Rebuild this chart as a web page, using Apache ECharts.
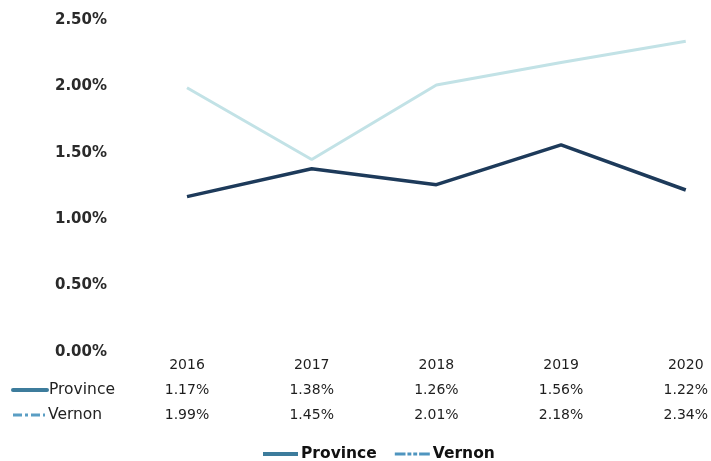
<!DOCTYPE html>
<html>
<head>
<meta charset="utf-8">
<script src="https://cdn.jsdelivr.net/npm/echarts@6/dist/echarts.min.js"></script>
<style>html,body{margin:0;padding:0;background:#fff}#c{width:711px;height:461px}</style>
</head>
<body>
<div id="c"></div>
<script>
var years = ['2016', '2017', '2018', '2019', '2020'];
var seriesNames = ['Province', 'Vernon'];
var province = [1.17, 1.38, 1.26, 1.56, 1.22];
var vernon = [1.99, 1.45, 2.01, 2.18, 2.34];

var FONT = '"DejaVu Sans", "Open Sans", sans-serif';
var chart = echarts.init(document.getElementById('c'));
var fmt = function (v) { return v.toFixed(2) + '%'; };

chart.setOption({
  animation: false,
  backgroundColor: '#ffffff',
  grid: { left: 187, right: 23, top: 20, bottom: 109 },
  xAxis: {
    type: 'category',
    data: years,
    boundaryGap: false,
    axisLine: { show: false },
    axisTick: { show: false },
    splitLine: { show: false },
    axisLabel: {
      margin: 1,
      interval: 0,
      formatter: function (v, i) {
        return '{y|' + v + '}\n{v|' + fmt(province[i]) + '}\n{v|' + fmt(vernon[i]) + '}';
      },
      rich: {
        y: { fontFamily: FONT, fontSize: 14, fontWeight: 500, color: '#1e1e1e', lineHeight: 25 },
        v: { fontFamily: FONT, fontSize: 14, fontWeight: 500, color: '#1e1e1e', lineHeight: 25 }
      }
    }
  },
  yAxis: {
    type: 'value',
    min: 0,
    max: 2.5,
    interval: 0.5,
    axisLine: { show: false },
    axisTick: { show: false },
    splitLine: { show: false },
    axisLabel: {
      margin: 80,
      fontFamily: FONT,
      fontSize: 15,
      fontWeight: 700,
      color: '#2a2a2a',
      formatter: function (v) { return v.toFixed(2) + '%'; }
    }
  },
  legend: {
    top: 441,
    left: 258,
    itemGap: 18,
    itemWidth: 35,
    itemHeight: 4,
    textStyle: { fontFamily: FONT, fontSize: 15.5, fontWeight: 700, color: '#111', padding: [0, 0, 0, -2] },
    data: [
      { name: seriesNames[0], icon: 'rect' },
      { name: seriesNames[1], icon: 'path://M0,0h11v3h-11zM13,0h4v3h-4zM19,0h4v3h-4zM25,0h11v3h-11z' }
    ]
  },
  graphic: [
    { type: 'line', shape: { x1: 13, y1: 390, x2: 47, y2: 390 }, style: { stroke: '#3d7c9c', lineWidth: 4, lineCap: 'round' } },
    { type: 'text', x: 49, y: 390, style: { text: seriesNames[0], fontFamily: FONT, fontSize: 15.5, fontWeight: 500, fill: '#222', textVerticalAlign: 'middle' } },
    { type: 'line', shape: { x1: 13, y1: 415, x2: 45, y2: 415 }, style: { stroke: '#5a9ec4', lineWidth: 3, lineDash: [9, 3, 3, 3] } },
    { type: 'text', x: 48, y: 415, style: { text: seriesNames[1], fontFamily: FONT, fontSize: 15.5, fontWeight: 500, fill: '#222', textVerticalAlign: 'middle' } }
  ],
  series: [
    {
      name: seriesNames[0], type: 'line', data: province, symbol: 'none',
      lineStyle: { color: '#1d3a5a', width: 3.5 }, itemStyle: { color: '#3d7c9c' }, z: 3
    },
    {
      name: seriesNames[1], type: 'line', data: vernon, symbol: 'none',
      lineStyle: { color: '#c2e2e6', width: 3 }, itemStyle: { color: '#4f95bf' }, z: 2
    }
  ]
});
</script>
</body>
</html>
